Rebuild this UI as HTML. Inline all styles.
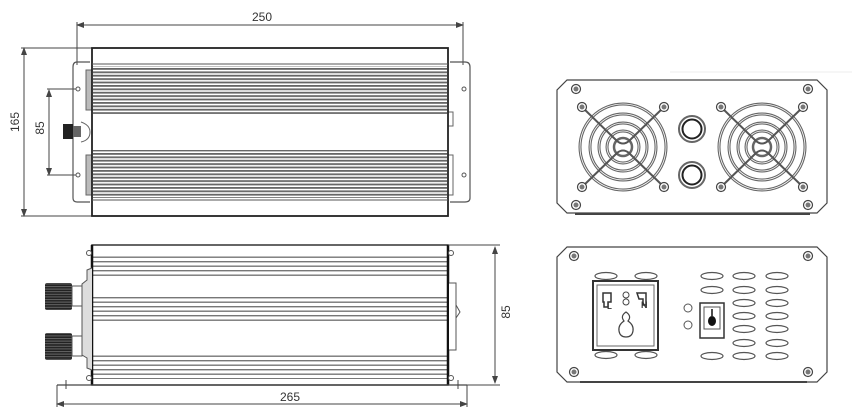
<!DOCTYPE html>
<html><head><meta charset="utf-8"><style>
html,body{margin:0;padding:0;background:#fff;}
svg{display:block;}
text{font-family:"Liberation Sans",sans-serif;fill:#333;}
</style></head><body>
<svg width="852" height="417" viewBox="0 0 852 417" xmlns="http://www.w3.org/2000/svg">
<defs>
<pattern id="fin" width="10" height="3.4" patternUnits="userSpaceOnUse">
<rect width="10" height="3.4" fill="#fff"/><rect y="0" width="10" height="1.8" fill="#666"/>
</pattern>
<pattern id="fin2" width="10" height="4.5" patternUnits="userSpaceOnUse">
<rect width="10" height="4.5" fill="#fff"/><rect y="0" width="10" height="1.4" fill="#777"/>
</pattern>
<pattern id="knurl" width="10" height="2.6" patternUnits="userSpaceOnUse">
<rect width="10" height="2.6" fill="#222"/><rect y="0" width="10" height="1" fill="#666"/>
</pattern>
<marker id="ar" markerWidth="8" markerHeight="6" refX="7" refY="3" orient="auto-start-reverse" markerUnits="userSpaceOnUse"><path d="M0,0 L8,3 L0,6 Z" fill="#444"/></marker>
<g id="screw"><circle r="4.5" fill="#fff" stroke="#444" stroke-width="1.2"/><circle r="2.5" fill="#777"/></g>
<g id="fan">
<circle r="43" fill="none" stroke="#666" stroke-width="3"/><circle r="43" fill="none" stroke="#fff" stroke-width="0.8"/>
<circle r="33" fill="none" stroke="#666" stroke-width="3"/><circle r="33" fill="none" stroke="#fff" stroke-width="0.8"/>
<circle r="24" fill="none" stroke="#666" stroke-width="3"/><circle r="24" fill="none" stroke="#fff" stroke-width="0.8"/>
<circle r="16" fill="none" stroke="#666" stroke-width="3"/><circle r="16" fill="none" stroke="#fff" stroke-width="0.8"/>
<circle r="9" fill="none" stroke="#666" stroke-width="2.5"/>
<path d="M-41,-40 L-6,-6 Q0,-1 6,-6 L41,-40 M-41,40 L-6,6 Q0,1 6,6 L41,40" fill="none" stroke="#555" stroke-width="2"/>
<use href="#screw" x="-41" y="-40"/><use href="#screw" x="41" y="-40"/><use href="#screw" x="-41" y="40"/><use href="#screw" x="41" y="40"/>
</g>
</defs>

<!-- TOP VIEW -->
<line x1="77" y1="25" x2="463" y2="25" stroke="#444" stroke-width="1" marker-start="url(#ar)" marker-end="url(#ar)"/>
<line x1="77" y1="22" x2="77" y2="65" stroke="#444"/><line x1="463" y1="22" x2="463" y2="65" stroke="#444"/>
<text x="262" y="21" font-size="12" text-anchor="middle">250</text>
<line x1="24" y1="48" x2="24" y2="216" stroke="#444" marker-start="url(#ar)" marker-end="url(#ar)"/>
<line x1="21" y1="48" x2="92" y2="48" stroke="#444"/><line x1="21" y1="216" x2="92" y2="216" stroke="#444"/>
<text transform="translate(19,122) rotate(-90)" font-size="12" text-anchor="middle">165</text>
<line x1="49" y1="90" x2="49" y2="175" stroke="#444" marker-start="url(#ar)" marker-end="url(#ar)"/>
<line x1="47" y1="89" x2="78" y2="89" stroke="#444"/><line x1="47" y1="175" x2="78" y2="175" stroke="#444"/>
<text transform="translate(44,128) rotate(-90)" font-size="12" text-anchor="middle">85</text>
<path d="M90,62 H77 Q73,62 73,67 V198 Q73,202 77,202 H90" fill="none" stroke="#555" stroke-width="1.2"/>
<circle cx="78" cy="89" r="2" fill="#fff" stroke="#555"/><circle cx="78" cy="175" r="2" fill="#fff" stroke="#555"/>
<path d="M450,62 H465 Q470,62 470,67 V198 Q470,202 465,202 H450" fill="none" stroke="#555" stroke-width="1.2"/>
<circle cx="464" cy="89" r="2" fill="#fff" stroke="#555"/><circle cx="464" cy="175" r="2" fill="#fff" stroke="#555"/>
<rect x="86" y="70" width="6" height="40" fill="#bbb" stroke="#666"/><rect x="86" y="155" width="6" height="40" fill="#bbb" stroke="#666"/>
<rect x="448" y="155" width="5" height="40" fill="#fff" stroke="#666"/><rect x="448" y="112" width="5" height="14" fill="#fff" stroke="#666"/>
<rect x="63" y="124" width="10" height="15" fill="#222"/><rect x="73" y="126" width="8" height="11" fill="#666"/><path d="M81,122 Q90,125 90,132 Q90,140 81,142" fill="#fff" stroke="#666"/>
<rect x="92" y="48" width="356" height="168" fill="#fff" stroke="#222" stroke-width="1.8"/>
<line x1="92" y1="64" x2="448" y2="64" stroke="#555"/>
<rect x="93" y="66" width="354" height="48" fill="url(#fin)"/>
<rect x="93" y="150" width="354" height="48" fill="url(#fin)"/>
<line x1="92" y1="200" x2="448" y2="200" stroke="#555"/>

<!-- SIDE VIEW -->
<rect x="92" y="245" width="356" height="140" fill="#fff" stroke="#333" stroke-width="1.5"/>
<rect x="93" y="255" width="354" height="24" fill="url(#fin2)"/>
<rect x="93" y="297" width="354" height="24" fill="url(#fin2)"/>
<rect x="93" y="353" width="354" height="26" fill="url(#fin2)"/>
<line x1="92" y1="245" x2="92" y2="385" stroke="#111" stroke-width="2.5"/>
<line x1="448" y1="245" x2="448" y2="385" stroke="#111" stroke-width="2.5"/>
<path d="M92,268 L87,270 V280 L82,284 V355 L87,358 V368 L92,370" fill="#ddd" stroke="#555"/>
<rect x="45" y="283" width="27" height="27" rx="2" fill="url(#knurl)"/><rect x="72" y="286" width="10" height="20" fill="#fff" stroke="#555"/>
<rect x="45" y="333" width="27" height="27" rx="2" fill="url(#knurl)"/><rect x="72" y="336" width="10" height="20" fill="#fff" stroke="#555"/>
<path d="M449,283 H456 V350 H449" fill="#fff" stroke="#555"/><path d="M456,305 L460,312 L456,318" fill="none" stroke="#555"/>
<circle cx="89" cy="253" r="2.5" fill="#fff" stroke="#555"/><circle cx="89" cy="378" r="2.5" fill="#fff" stroke="#555"/>
<circle cx="451" cy="253" r="2.5" fill="#fff" stroke="#555"/><circle cx="451" cy="378" r="2.5" fill="#fff" stroke="#555"/>
<line x1="57" y1="385" x2="467" y2="385" stroke="#444" stroke-width="1.2"/>
<line x1="66" y1="380" x2="66" y2="389" stroke="#444"/><line x1="458" y1="380" x2="458" y2="389" stroke="#444"/>
<line x1="57" y1="385" x2="57" y2="407" stroke="#444"/><line x1="467" y1="385" x2="467" y2="407" stroke="#444"/>
<line x1="57" y1="404" x2="467" y2="404" stroke="#444" marker-start="url(#ar)" marker-end="url(#ar)"/>
<text x="290" y="401" font-size="12" text-anchor="middle">265</text>
<line x1="448" y1="245" x2="500" y2="245" stroke="#444"/><line x1="448" y1="385" x2="500" y2="385" stroke="#444"/>
<line x1="495" y1="247" x2="495" y2="383" stroke="#444" marker-start="url(#ar)" marker-end="url(#ar)"/>
<text transform="translate(510,312) rotate(-90)" font-size="12" text-anchor="middle">85</text>

<!-- FRONT PANEL (fans) -->
<line x1="670" y1="72" x2="852" y2="72" stroke="#eee"/>
<path d="M567,80 H817 L827,90 V203 L817,213 H567 L557,203 V90 Z" fill="#fff" stroke="#444" stroke-width="1.2"/>
<line x1="575" y1="214" x2="810" y2="214" stroke="#444" stroke-width="2"/>
<use href="#screw" x="576" y="89"/><use href="#screw" x="808" y="89"/><use href="#screw" x="576" y="205"/><use href="#screw" x="808" y="205"/>
<use href="#fan" x="623" y="147"/><use href="#fan" x="762" y="147"/>
<circle cx="692" cy="129" r="13" fill="#fff" stroke="#666" stroke-width="2"/><circle cx="692" cy="129" r="9.5" fill="#fff" stroke="#222" stroke-width="2"/>
<circle cx="692" cy="175" r="13" fill="#fff" stroke="#666" stroke-width="2"/><circle cx="692" cy="175" r="9.5" fill="#fff" stroke="#222" stroke-width="2"/>

<!-- REAR PANEL (socket) -->
<path d="M567,247 H817 L827,257 V372 L817,382 H567 L557,372 V257 Z" fill="#fff" stroke="#444" stroke-width="1.2"/>
<line x1="580" y1="382" x2="807" y2="382" stroke="#444" stroke-width="2"/>
<use href="#screw" x="574" y="256"/><use href="#screw" x="808" y="256"/><use href="#screw" x="574" y="372"/><use href="#screw" x="808" y="372"/>
<g fill="#fff" stroke="#555" stroke-width="1.2">
<ellipse cx="606" cy="276" rx="11" ry="3.5"/><ellipse cx="646" cy="276" rx="11" ry="3.5"/>
<ellipse cx="606" cy="355" rx="11" ry="3.5"/><ellipse cx="646" cy="355" rx="11" ry="3.5"/>
</g>
<rect x="593" y="281" width="65" height="69" fill="#fff" stroke="#333" stroke-width="2"/>
<rect x="597" y="285" width="57" height="61" fill="none" stroke="#666"/>
<path d="M603,293 h8 v9 h-3 v5 h-4 v-5 h-1 z" fill="none" stroke="#333" stroke-width="1.5"/>
<path d="M637,293 h9 v12 h-3 v-6 h-4 z" fill="none" stroke="#333" stroke-width="1.5"/>
<text x="607" y="309" font-size="8" font-weight="bold">L</text><text x="641" y="308" font-size="9" font-weight="bold">N</text>
<circle cx="626" cy="295" r="3" fill="none" stroke="#444"/><circle cx="626" cy="302" r="3" fill="none" stroke="#444"/>
<path d="M626,312 q-6,4 -2,9 q-6,4 -5,10 q1,6 7,6 q6,0 7,-6 q1,-6 -5,-10 q4,-5 -2,-9z" fill="none" stroke="#444" stroke-width="1.2"/>
<circle cx="688" cy="308" r="4" fill="none" stroke="#555"/><circle cx="688" cy="325" r="4" fill="none" stroke="#555"/>
<rect x="700" y="303" width="24" height="35" fill="#fff" stroke="#333" stroke-width="1.5"/>
<rect x="704" y="307" width="16" height="22" fill="none" stroke="#555"/>
<line x1="712" y1="309" x2="712" y2="316" stroke="#111" stroke-width="1.5"/><ellipse cx="712" cy="321" rx="4" ry="5" fill="#111"/>
<g fill="#fff" stroke="#555" stroke-width="1.2">
<ellipse cx="712" cy="276" rx="11" ry="3.5"/><ellipse cx="744" cy="276" rx="11" ry="3.5"/><ellipse cx="777" cy="276" rx="11" ry="3.5"/>
<ellipse cx="712" cy="290" rx="11" ry="3.5"/><ellipse cx="744" cy="290" rx="11" ry="3.5"/><ellipse cx="777" cy="290" rx="11" ry="3.5"/>
<ellipse cx="744" cy="303" rx="11" ry="3.5"/><ellipse cx="777" cy="303" rx="11" ry="3.5"/>
<ellipse cx="744" cy="316" rx="11" ry="3.5"/><ellipse cx="777" cy="316" rx="11" ry="3.5"/>
<ellipse cx="744" cy="329" rx="11" ry="3.5"/><ellipse cx="777" cy="329" rx="11" ry="3.5"/>
<ellipse cx="744" cy="343" rx="11" ry="3.5"/><ellipse cx="777" cy="343" rx="11" ry="3.5"/>
<ellipse cx="712" cy="356" rx="11" ry="3.5"/><ellipse cx="744" cy="356" rx="11" ry="3.5"/><ellipse cx="777" cy="356" rx="11" ry="3.5"/>
</g>
</svg>
</body></html>
